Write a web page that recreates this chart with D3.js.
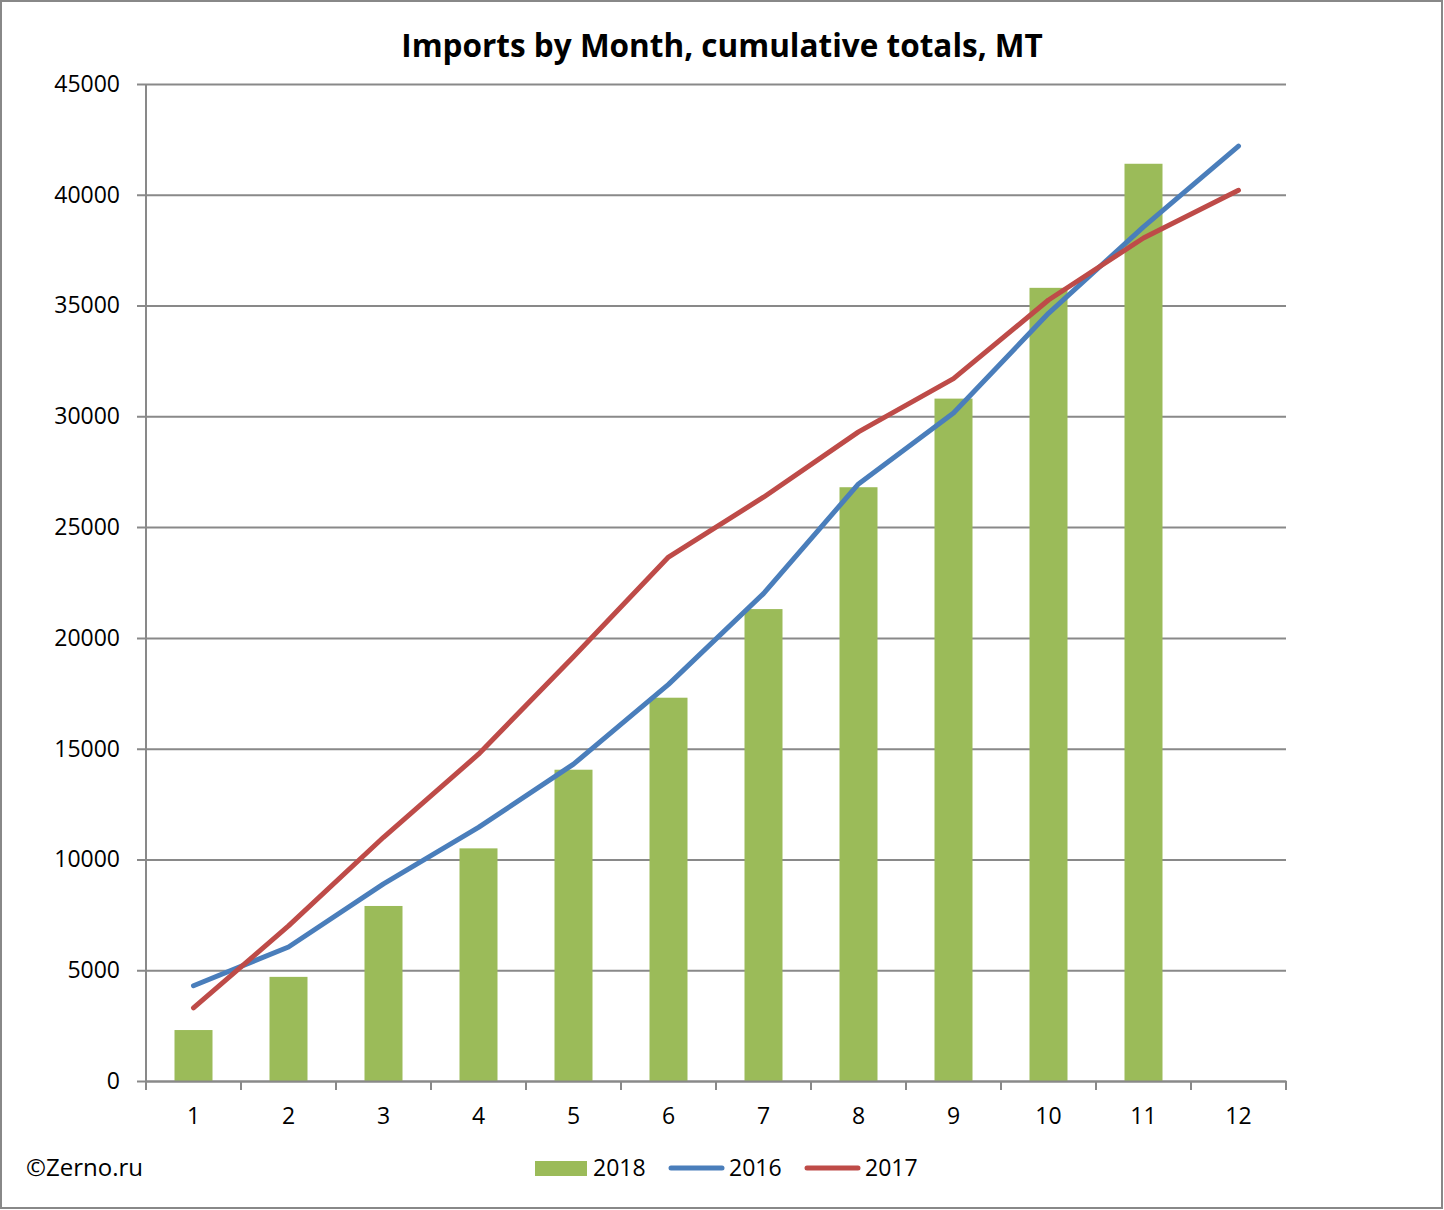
<!DOCTYPE html>
<html><head><meta charset="utf-8">
<script src="https://cdn.jsdelivr.net/npm/d3@7"></script>
<style>body{margin:0;background:#fff}svg{display:block}text{font-family:"Open Sans","Noto Sans",sans-serif}</style>
</head><body><svg id="c" width="1444" height="1210"></svg>
<script>
const months = [1,2,3,4,5,6,7,8,9,10,11,12];
const s2018 = [2300,4700,7900,10500,14050,17300,21300,26800,30800,35800,41400,null];
const s2016 = [4300,6050,8900,11450,14300,17900,22000,26950,30150,34650,38550,42200];
const s2017 = [3300,7000,11000,14750,19150,23650,26350,29300,31700,35250,38050,40200];
const yTicks = [0,5000,10000,15000,20000,25000,30000,35000,40000,45000];
const legendItems = ["2018","2016","2017"];
const title = "Imports by Month, cumulative totals, MT";

const svg = d3.select("#c");
const L=146, R=1286, T=84, B=1081;
const xb = d3.scaleBand().domain(months).range([L,R]);
const y = d3.scaleLinear().domain([0,45000]).range([B,T]);
const grid="#898989";

svg.append("rect").attr("x",1).attr("y",1).attr("width",1441).attr("height",1207).attr("fill","#fff").attr("stroke","#888").attr("stroke-width",2);

svg.append("text").attr("x",722).attr("y",57).attr("text-anchor","middle").attr("font-size",31.5).attr("font-weight","bold").text(title);

// gridlines + y axis
const ya = svg.append("g").attr("transform",`translate(${L},0)`).call(d3.axisLeft(y).tickValues(yTicks).tickSize(-(R-L)).tickSizeOuter(0).tickFormat(d3.format("d")).tickPadding(26));
ya.select(".domain").remove();
ya.selectAll(".tick line").attr("stroke",grid).attr("stroke-width",2).attr("x1",-9);
ya.selectAll(".tick text").attr("font-size",23).attr("fill","#000");
svg.append("line").attr("x1",L).attr("x2",L).attr("y1",T).attr("y2",B).attr("stroke",grid).attr("stroke-width",2);

// bars
svg.append("g").selectAll("rect").data(months.map((m,i)=>({m,v:s2018[i]})).filter(d=>d.v!=null)).join("rect")
  .attr("x",d=>xb(d.m)+xb.bandwidth()/2-19).attr("width",38)
  .attr("y",d=>y(d.v)).attr("height",d=>B-y(d.v)).attr("fill","#9BBB59");

// x axis
const xa = svg.append("g").attr("transform",`translate(0,${B})`).call(d3.axisBottom(xb).tickSize(0).tickPadding(27));
xa.select(".domain").attr("stroke",grid).attr("stroke-width",2);
xa.selectAll(".tick text").attr("font-size",23).attr("fill","#000");
svg.append("g").selectAll("line").data(months.concat([13])).join("line")
  .attr("x1",d=>d===13?R:xb(d)).attr("x2",d=>d===13?R:xb(d)).attr("y1",B).attr("y2",B+9).attr("stroke",grid).attr("stroke-width",2);

// lines
const cx = m => xb(m)+xb.bandwidth()/2;
const line = d3.line().x(d=>cx(d.m)).y(d=>y(d.v));
[[s2016,"#4A7EBB"],[s2017,"#BE4B48"]].forEach(([s,c])=>{
  svg.append("path").datum(months.map((m,i)=>({m,v:s[i]}))).attr("d",line).attr("fill","none").attr("stroke",c).attr("stroke-width",5).attr("stroke-linecap","round").attr("stroke-linejoin","round");
});

// legend
const lg = svg.append("g");
lg.append("rect").attr("x",535).attr("y",1161).attr("width",52).attr("height",15).attr("fill","#9BBB59");
lg.append("text").attr("x",593).attr("y",1176).attr("font-size",23).text(legendItems[0]);
lg.append("line").attr("x1",671).attr("x2",722).attr("y1",1168).attr("y2",1168).attr("stroke","#4A7EBB").attr("stroke-width",5).attr("stroke-linecap","round");
lg.append("text").attr("x",729).attr("y",1176).attr("font-size",23).text(legendItems[1]);
lg.append("line").attr("x1",807).attr("x2",858).attr("y1",1168).attr("y2",1168).attr("stroke","#BE4B48").attr("stroke-width",5).attr("stroke-linecap","round");
lg.append("text").attr("x",865).attr("y",1176).attr("font-size",23).text(legendItems[2]);

svg.append("text").attr("x",26).attr("y",1176).attr("font-size",24).text("©Zerno.ru");
</script></body></html>
